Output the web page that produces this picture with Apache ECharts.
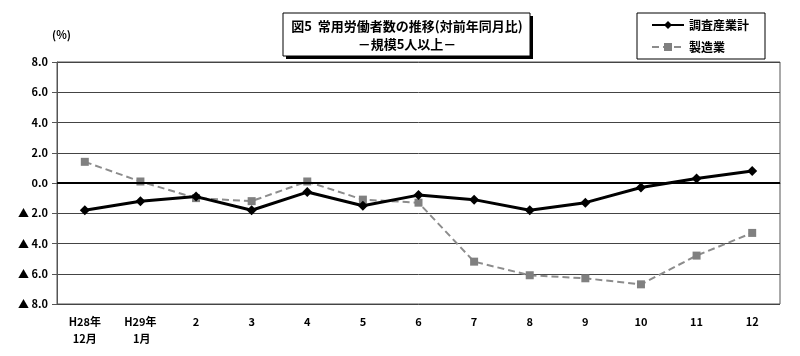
<!DOCTYPE html>
<html><head><meta charset="utf-8">
<script src="https://cdn.jsdelivr.net/npm/echarts@6/dist/echarts.min.js"></script>
<style>html,body{margin:0;padding:0;background:#fff}#c{width:800px;height:356px}</style>
</head><body><div id="c"></div>
<script>
const categories = ['H28年\n12月','H29年\n 1月','2','3','4','5','6','7','8','9','10','11','12'];
const totalIndustry = [-1.8,-1.2,-0.9,-1.8,-0.6,-1.5,-0.8,-1.1,-1.8,-1.3,-0.3,0.3,0.8];
const manufacturing = [1.4,0.1,-1.0,-1.2,0.1,-1.1,-1.3,-5.2,-6.1,-6.3,-6.7,-4.8,-3.3];
const seriesNames = ['調査産業計','製造業'];
const titleLines = ['図5  常用労働者数の推移(対前年同月比)','－規模5人以上－'];

const FONT = '"Noto Sans CJK JP", "Noto Sans", sans-serif';
const chart = echarts.init(document.getElementById('c'), null, {renderer:'canvas'});
chart.setOption({
  animation:false,
  textStyle:{fontFamily:FONT},
  graphic:[
    {type:'rect', x:286, y:16, shape:{width:247, height:43}, style:{fill:'#000'}, z:10},
    {type:'rect', x:283, y:13, shape:{width:247, height:43}, style:{fill:'#fff', stroke:'#000', lineWidth:1}, z:11},
    {type:'text', x:407, y:26, z:12,
     style:{text:titleLines[0], fill:'#000', font:'bold 13px ' + FONT, align:'center', verticalAlign:'middle'}},
    {type:'text', x:407, y:44, z:12,
     style:{text:titleLines[1], fill:'#000', font:'bold 13px ' + FONT, align:'center', verticalAlign:'middle'}}
  ],
  legend:{
    orient:'vertical', left:637, top:13,
    padding:[6,16,6,14], itemGap:10,
    borderColor:'#000', borderWidth:1, backgroundColor:'#fff',
    itemWidth:32, itemHeight:10,
    textStyle:{fontSize:12, fontWeight:'bold', color:'#000', fontFamily:FONT},
    data:seriesNames
  },
  grid:{left:57, right:20, top:62, bottom:52, show:true, borderColor:'#555', borderWidth:1},
  xAxis:{
    type:'category', data:categories, boundaryGap:true,
    axisLine:{lineStyle:{color:'#555', width:1}},
    axisTick:{show:false},
    axisLabel:{fontSize:11, fontWeight:'bold', color:'#000', margin:9, lineHeight:17, fontFamily:FONT}
  },
  yAxis:{
    type:'value', min:-8, max:8, interval:2,
    name:'(%)', nameLocation:'end', nameGap:22,
    nameTextStyle:{fontSize:11, fontWeight:'bold', color:'#000', align:'right', padding:[0,-14,0,0], fontFamily:FONT},
    axisLine:{show:true, lineStyle:{color:'#555'}},
    axisTick:{show:true, length:5, lineStyle:{color:'#555'}},
    axisLabel:{fontSize:11, fontWeight:'bold', color:'#000', margin:9, fontFamily:FONT,
      formatter:v=> v<0 ? '▲ '+Math.abs(v).toFixed(1) : v.toFixed(1)},
    splitLine:{lineStyle:{color:'#444', width:1}}
  },
  series:[
    {name:seriesNames[0], type:'line', data:totalIndustry, z:3,
     symbol:'diamond', symbolSize:10, color:'#000',
     lineStyle:{color:'#000', width:3}, itemStyle:{color:'#000'},
     markLine:{silent:true, symbol:'none', label:{show:false},
       lineStyle:{color:'#000', width:2, type:'solid'}, data:[{yAxis:0}]}},
    {name:seriesNames[1], type:'line', data:manufacturing, z:2,
     symbol:'rect', symbolSize:8, color:'#808080',
     lineStyle:{color:'#8c8c8c', width:2, type:[7,4]}, itemStyle:{color:'#808080'}}
  ]
});
</script></body></html>
